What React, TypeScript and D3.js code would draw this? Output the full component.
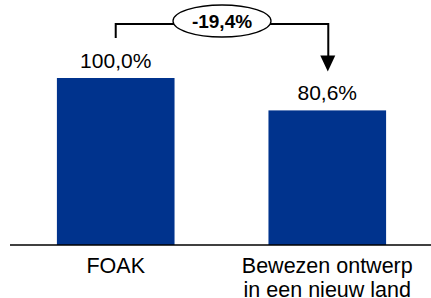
import { useMemo } from 'react';
import * as d3 from 'd3';

const categories = ['FOAK', 'Bewezen ontwerp\nin een nieuw land'];
const values = [100.0, 80.6];
const valueLabels = ['100,0%', '80,6%'];
const changeLabel = '-19,4%';

const WIDTH = 431;
const HEIGHT = 298;
const BASE_Y = 245;
const BAR_COLOR = '#00338D';
const FONT = 'Arial, "Liberation Sans", Helvetica, sans-serif';

export default function App() {
  const chart = useMemo(() => {
    const x = d3.scaleBand().domain(categories).range([11, 432]).paddingInner(0.444).paddingOuter(0.217);
    const y = d3.scaleLinear().domain([0, 100]).range([BASE_Y, 78]);
    const bars = categories.map((cat, i) => ({
      cat,
      x: x(cat) ?? 0,
      width: x.bandwidth(),
      cx: (x(cat) ?? 0) + x.bandwidth() / 2,
      y: y(values[i]),
      label: valueLabels[i]
    }));
    return { bars };
  }, []);

  const [a, b] = chart.bars;
  const bracketY = 24;
  const arrowTip = b.y - 39;
  const ellipseCx = (a.cx + b.cx) / 2 + 0.5;

  return (
    <svg
      width={WIDTH}
      height={HEIGHT}
      style={{ position: 'absolute', left: 0, top: 0, fontFamily: FONT }}
    >
      {chart.bars.map((bar) => (
        <rect key={bar.cat} x={bar.x} y={bar.y} width={bar.width} height={BASE_Y - bar.y} fill={BAR_COLOR} />
      ))}
      <line x1={10} x2={WIDTH} y1={BASE_Y} y2={BASE_Y} stroke="#000" strokeWidth={1.3} />

      {chart.bars.map((bar) => (
        <text key={`v-${bar.cat}`} x={bar.cx} y={bar.y - 10} textAnchor="middle" fontSize={21} fill="#000">
          {bar.label}
        </text>
      ))}

      {chart.bars.map((bar) => (
        <text key={`c-${bar.cat}`} x={bar.cx} y={273} textAnchor="middle" fontSize={21.5} fill="#000">
          {bar.cat.split('\n').map((line, i) => (
            <tspan key={i} x={bar.cx} dy={i === 0 ? 0 : 24}>
              {line}
            </tspan>
          ))}
        </text>
      ))}

      <path
        d={`M${a.cx},${a.y - 40} V${bracketY} H${b.cx + 1} V${arrowTip - 15}`}
        fill="none"
        stroke="#000"
        strokeWidth={2}
      />
      <path
        d={`M${b.cx - 7},${arrowTip - 16} L${b.cx + 8},${arrowTip - 16} L${b.cx + 0.5},${arrowTip} Z`}
        fill="#000"
      />
      <ellipse cx={ellipseCx} cy={21} rx={49} ry={16} fill="#fff" stroke="#000" strokeWidth={1.3} />
      <text x={ellipseCx} y={28} textAnchor="middle" fontSize={19} fontWeight="bold" fill="#000">
        {changeLabel}
      </text>
    </svg>
  );
}
